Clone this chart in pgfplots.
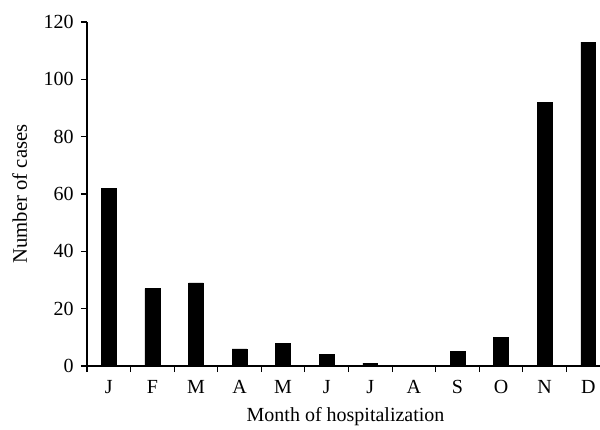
\documentclass[border=0pt]{standalone}
\usepackage{pgfplots}
\pgfplotsset{compat=1.18}
\usepackage{fontspec}
\setmainfont{Liberation Serif}
\begin{document}
\begin{tikzpicture}
\begin{axis}[
  scale only axis,
  width=384.75pt, height=258pt,
  xmin=-0.5, xmax=11.27,
  ymin=0, ymax=120,
  axis x line=bottom, axis y line=left,
  axis line style={-, black, line width=0.8pt},
  ytick={0,20,...,120},
  xtick={-0.5,0.5,...,10.5},
  xticklabels={},
  extra x ticks={0,...,11},
  extra x tick labels={J,F,M,A,M,J,J,A,S,O,N,D},
  extra x tick style={major tick length=0pt, xticklabel style={yshift=-7pt}},
  major tick length=4.5pt,
  tick align=outside,
  tick style={black, line width=0.8pt},
  ticklabel style={font=\fontsize{15}{17}\selectfont},
  yticklabel style={xshift=-2pt},
  /pgf/number format/assume math mode=true,
  label style={font=\fontsize{15}{17}\selectfont},
  xlabel={Month of hospitalization},
  ylabel={Number of cases},
  xlabel style={at={(axis description cs:0.504,-0.148)}, anchor=center},
  ylabel style={at={(axis description cs:-0.131,0.5)}, anchor=center, font=\fontsize{15.5}{17}\selectfont},
  clip=false,
]
\addplot[ybar, bar width=0.34, fill=black, draw=black] coordinates {
(0,62) (1,27) (2,29) (3,6) (4,8) (5,4) (6,1) (7,0) (8,5) (9,10) (10,92) (11,113)
};
\coordinate (sw) at (rel axis cs:0,0);
\coordinate (ne) at (rel axis cs:1,1);
\end{axis}
\pgfresetboundingbox
\path[use as bounding box] ([xshift=-65.25pt,yshift=-47.25pt]sw) rectangle ([yshift=16.5pt]ne);
\end{tikzpicture}
\end{document}
